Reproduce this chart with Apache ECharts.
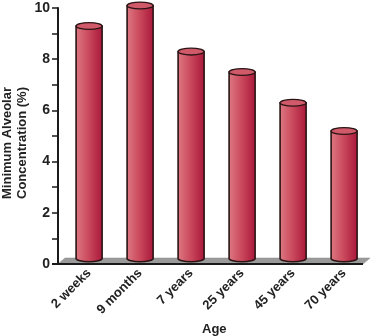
<!DOCTYPE html>
<html>
<head>
<meta charset="utf-8">
<script src="https://cdn.jsdelivr.net/npm/echarts@6/dist/echarts.min.js"></script>
<style>html,body{margin:0;padding:0;background:#fff}#c{width:373px;height:336px}</style>
</head>
<body>
<div id="c"></div>
<script>
var categories = ['2 weeks', '9 months', '7 years', '25 years', '45 years', '70 years'];
var macValues = [9.2, 10.0, 8.2, 7.4, 6.2, 5.1];
var yTicks = [0, 2, 4, 6, 8, 10];
var yTitle = 'Minimum Alveolar\nConcentration (%)';
var xTitle = 'Age';

var FONT = '"Liberation Sans", Arial, sans-serif';
var chart = echarts.init(document.getElementById('c'), null, {renderer: 'canvas'});

function cylinder(params, api) {
  var idx = api.value(0);
  var v = api.value(1);
  var base = api.coord([idx, 0]);
  var top = api.coord([idx, v]);
  var band = api.size([1, 0])[0];
  var rx = band * 0.255;
  var ry = 3.4;
  var cx = base[0];
  var yb = base[1] - 5.6;
  var yt = top[1] - 2.5;
  var x1 = cx - rx, x2 = cx + rx;
  var grad = {type: 'linear', x: 0, y: 0, x2: 1, y2: 0, colorStops: [
    {offset: 0, color: '#dd7a84'},
    {offset: 0.45, color: '#cc4c5e'},
    {offset: 1, color: '#a8163a'}
  ]};
  var body = 'M' + x1 + ' ' + yt + ' L' + x1 + ' ' + yb +
    ' A' + rx + ' ' + ry + ' 0 0 0 ' + x2 + ' ' + yb +
    ' L' + x2 + ' ' + yt + ' Z';
  return {
    type: 'group',
    children: [
      {type: 'path', shape: {pathData: body}, style: {fill: grad, stroke: '#2a1414', lineWidth: 1.6}},
      {type: 'ellipse', shape: {cx: cx, cy: yt, rx: rx, ry: ry},
       style: {fill: '#d05a6a', stroke: '#2a1414', lineWidth: 1.3}}
    ]
  };
}

function floor(params, api) {
  var cs = params.coordSys;
  var yb = cs.y + cs.height;
  var xl = cs.x - 5.6, xr = cs.x + cs.width - 6.6;
  var dx = 7, dy = 6;
  return {
    type: 'group',
    children: [
      {type: 'polygon', shape: {points: [[xl, yb], [xr, yb], [xr + dx, yb - dy], [xl + dx, yb - dy]]},
       style: {fill: '#9a9a9a', stroke: '#8a8a8a', lineWidth: 0.5}},
      {type: 'line', shape: {x1: xl - 6, y1: yb, x2: xr, y2: yb}, style: {stroke: '#1a1a1a', lineWidth: 2}}
    ]
  };
}

chart.setOption({
  animation: false,
  backgroundColor: '#ffffff',
  grid: {left: 63.6, right: 3.4, top: 8, bottom: 72, containLabel: false, outerBoundsMode: 'none'},
  title: {text: xTitle, left: 197, top: 318,
    textStyle: {fontFamily: FONT, fontWeight: 'bold', fontSize: 13, color: '#222'}},
  graphic: [{
    type: 'text', x: 15, y: 143, rotation: Math.PI / 2,
    style: {text: yTitle, align: 'center', verticalAlign: 'middle', lineHeight: 15,
      font: 'bold 13px ' + FONT, fill: '#222'}
  }],
  xAxis: {
    type: 'category', data: categories,
    axisLine: {show: false}, axisTick: {show: false},
    axisLabel: {rotate: 45, margin: 7, fontFamily: FONT, fontWeight: 'bold', fontSize: 13, color: '#222'}
  },
  yAxis: {
    type: 'value', min: yTicks[0], max: yTicks[yTicks.length - 1], interval: 2,
    offset: 5.6,
    axisLine: {show: true, lineStyle: {color: '#1a1a1a', width: 2}},
    axisTick: {show: true, length: 6, lineStyle: {color: '#1a1a1a', width: 1.5}},
    minorTick: {show: true, splitNumber: 2, length: 6, lineStyle: {color: '#1a1a1a', width: 1.5}},
    splitLine: {show: false},
    axisLabel: {margin: 8, fontFamily: FONT, fontWeight: 'bold', fontSize: 14, color: '#222'}
  },
  series: [
    {type: 'custom', renderItem: floor, data: [[0]], z: 1, silent: true},
    {type: 'custom', renderItem: cylinder, z: 2,
     data: macValues.map(function (v, i) { return [i, v]; })}
  ]
});
</script>
</body>
</html>
